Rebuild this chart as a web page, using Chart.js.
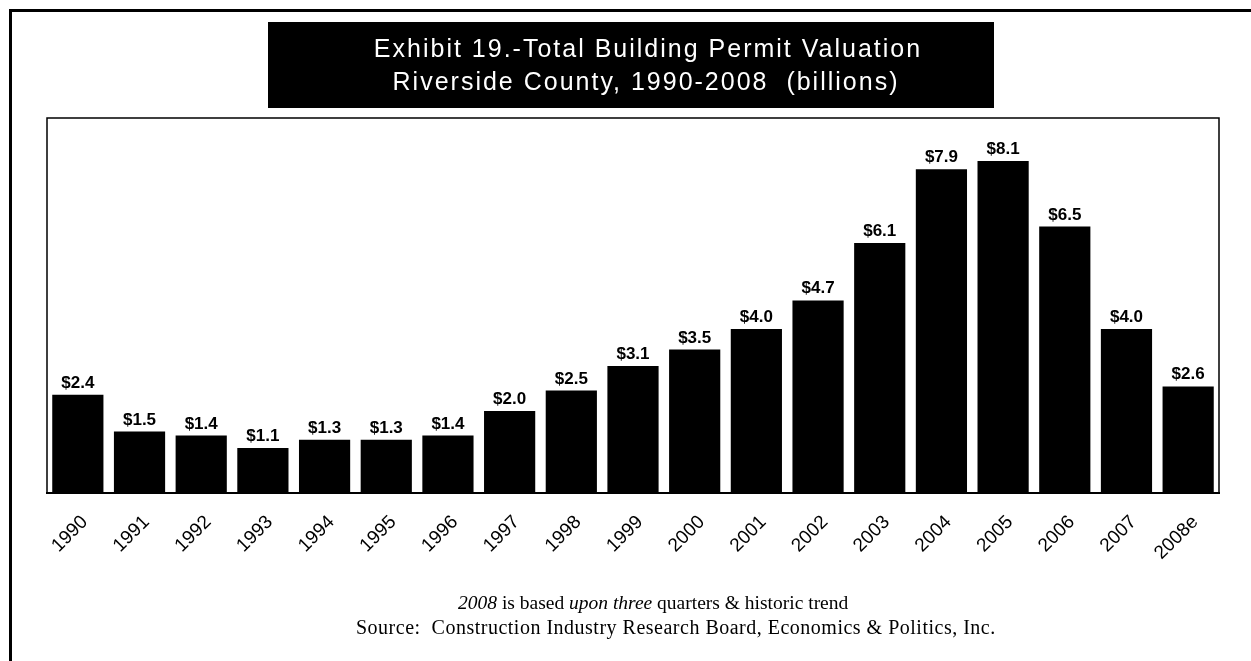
<!DOCTYPE html>
<html>
<head>
<meta charset="utf-8">
<script src="https://cdn.jsdelivr.net/npm/chart.js@4/dist/chart.umd.min.js"></script>
<style>
  html, body { margin: 0; padding: 0; background: #fff; overflow: hidden; }
  #wrap { position: relative; width: 1251px; height: 661px; }
</style>
</head>
<body>
<div id="wrap"><canvas id="c" width="1251" height="661"></canvas></div>
<script>
// Riverside County building permit valuation, billions of dollars
const years = ['1990', '1991', '1992', '1993', '1994', '1995', '1996', '1997', '1998', '1999',
               '2000', '2001', '2002', '2003', '2004', '2005', '2006', '2007', '2008e'];
const valuations = [2.4, 1.5, 1.4, 1.1, 1.3, 1.3, 1.4, 2.0, 2.5, 3.1,
                    3.5, 4.0, 4.7, 6.1, 7.9, 8.1, 6.5, 4.0, 2.6];

const titleLines = [
  'Exhibit 19.-Total Building Permit Valuation',
  'Riverside County, 1990-2008  (billions)'
];
// footnote pieces: [text, italic?]
const noteParts = [
  ['2008', true],
  [' is based ', false],
  ['upon three', true],
  [' quarters & historic trend', false]
];
const sourceLine = 'Source:  Construction Industry Research Board, Economics & Politics, Inc.';

const SANS = 'Arial, "Liberation Sans", sans-serif';
const SERIF = '"Times New Roman", "Liberation Serif", serif';

const fmtMoney = v => '$' + v.toFixed(1);

const decorPlugin = {
  id: 'decor',
  beforeDraw(chart) {
    const ctx = chart.ctx;
    ctx.save();
    ctx.fillStyle = '#fff';
    ctx.fillRect(0, 0, chart.width, chart.height);
    ctx.restore();
  },
  afterDatasetsDraw(chart) {
    const ctx = chart.ctx;
    const meta = chart.getDatasetMeta(0);
    ctx.save();
    ctx.fillStyle = '#000';
    ctx.font = 'bold 17px ' + SANS;
    ctx.textAlign = 'center';
    ctx.textBaseline = 'alphabetic';
    meta.data.forEach((bar, i) => {
      ctx.fillText(fmtMoney(valuations[i]), bar.x, bar.y - 7);
    });
    ctx.restore();
  },
  afterDraw(chart) {
    const ctx = chart.ctx;
    const a = chart.chartArea;
    ctx.save();
    // outer frame
    ctx.strokeStyle = '#000';
    ctx.lineWidth = 3;
    ctx.strokeRect(10.5, 10.5, 1260, 680);

    // plot frame (top, left, right)
    ctx.lineWidth = 1.5;
    ctx.beginPath();
    ctx.moveTo(a.left, a.bottom);
    ctx.lineTo(a.left, a.top);
    ctx.lineTo(a.right, a.top);
    ctx.lineTo(a.right, a.bottom);
    ctx.stroke();

    // title box
    ctx.fillStyle = '#000';
    ctx.fillRect(268, 22, 726, 86);
    ctx.fillStyle = '#fff';
    ctx.font = '25px ' + SANS;
    ctx.textAlign = 'center';
    ctx.textBaseline = 'alphabetic';
    if ('letterSpacing' in ctx) ctx.letterSpacing = '2px';
    ctx.fillText(titleLines[0], 648, 57);
    ctx.fillText(titleLines[1], 646, 90);
    if ('letterSpacing' in ctx) ctx.letterSpacing = '0px';

    // footnotes
    ctx.fillStyle = '#000';
    ctx.textAlign = 'left';
    let x = 458;
    noteParts.forEach(([t, it]) => {
      ctx.font = (it ? 'italic ' : '') + '19.5px ' + SERIF;
      ctx.fillText(t, x, 609);
      x += ctx.measureText(t).width;
    });
    ctx.font = '20px ' + SERIF;
    if ('letterSpacing' in ctx) ctx.letterSpacing = '0.5px';
    ctx.fillText(sourceLine, 356, 634);
    if ('letterSpacing' in ctx) ctx.letterSpacing = '0px';
    ctx.restore();
  }
};

new Chart(document.getElementById('c'), {
  type: 'bar',
  data: {
    labels: years,
    datasets: [{
      data: valuations,
      backgroundColor: '#000',
      borderWidth: 0,
      categoryPercentage: 1.0,
      barPercentage: 0.83
    }]
  },
  options: {
    responsive: false,
    animation: false,
    devicePixelRatio: 1,
    layout: { padding: { left: 47, right: 32, top: 118, bottom: 0 } },
    plugins: {
      legend: { display: false },
      title: { display: false },
      tooltip: { enabled: false }
    },
    scales: {
      x: {
        grid: { display: false, drawTicks: false },
        border: { display: true, color: '#000', width: 2 },
        ticks: {
          color: '#000',
          font: { family: SANS, size: 19 },
          minRotation: 45,
          maxRotation: 45,
          autoSkip: false,
          padding: 18,
          labelOffset: 7
        },
        afterFit(scale) { scale.height = 168; }
      },
      y: {
        display: false,
        min: 0,
        max: 9.15
      }
    }
  },
  plugins: [decorPlugin]
});
</script>
</body>
</html>
